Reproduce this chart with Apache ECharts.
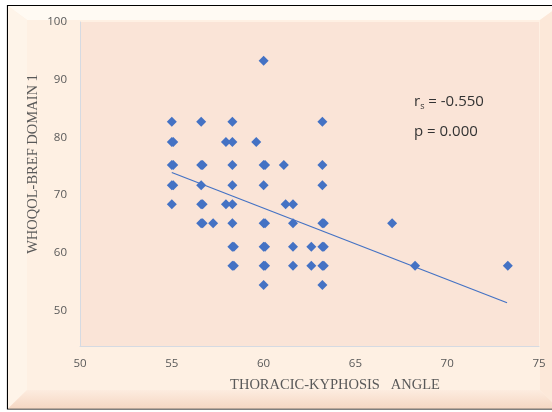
<!DOCTYPE html>
<html>
<head>
<meta charset="utf-8">
<script src="https://cdn.jsdelivr.net/npm/echarts@6/dist/echarts.min.js"></script>
<style>html,body{margin:0;padding:0;background:#fff;}#c{width:552px;height:412px;}</style>
</head>
<body>
<div id="c"></div>
<script>
// Thoracic-kyphosis angle (x) vs WHOQOL-BREF domain 1 (y)
const angle = [
  60.0,
  55.0, 56.6, 58.3, 63.2,
  55.0, 55.08, 57.95, 58.3, 59.6,
  55.0, 55.08, 56.6, 56.68, 58.3, 60.0, 60.08, 61.1, 63.2,
  55.0, 55.08, 56.6, 58.3, 60.0, 63.2,
  55.0, 56.6, 56.68, 57.95, 58.3, 61.2, 61.6,
  56.6, 56.68, 57.25, 58.3, 60.0, 60.08, 61.6, 63.2, 63.28, 67.0,
  58.3, 58.38, 60.0, 60.08, 61.6, 62.6, 63.2, 63.28,
  58.3, 58.38, 60.0, 60.08, 61.6, 62.6, 63.2, 63.28, 68.25, 73.3,
  60.0, 63.2
];
const domain1 = [
  93.3,
  82.7, 82.7, 82.7, 82.7,
  79.2, 79.2, 79.2, 79.2, 79.2,
  75.2, 75.2, 75.2, 75.2, 75.2, 75.2, 75.2, 75.2, 75.2,
  71.7, 71.7, 71.7, 71.7, 71.7, 71.7,
  68.4, 68.4, 68.4, 68.4, 68.4, 68.4, 68.4,
  65.1, 65.1, 65.1, 65.1, 65.1, 65.1, 65.1, 65.1, 65.1, 65.1,
  61.0, 61.0, 61.0, 61.0, 61.0, 61.0, 61.0, 61.0,
  57.7, 57.7, 57.7, 57.7, 57.7, 57.7, 57.7, 57.7, 57.7, 57.7,
  54.4, 54.4
];
const trendX = [55.0, 73.26];
const trendY = [73.9, 51.3];
const xTicks = [50, 55, 60, 65, 70, 75];
const yTicks = [50, 60, 70, 80, 90, 100];
const xTitle = 'THORACIC-KYPHOSIS   ANGLE';
const yTitle = 'WHOQOL-BREF DOMAIN 1';

const points = angle.map((x, i) => [x, domain1[i]]);
const trend = trendX.map((x, i) => [x, trendY[i]]);

const chart = echarts.init(document.getElementById('c'), null, {renderer: 'canvas'});
const labelFont = {color: '#595959', fontFamily: 'Open Sans', fontSize: 11.5};
chart.setOption({
  backgroundColor: '#ffffff',
  animation: false,
  grid: {left: 80, top: 22, right: 13, bottom: 66, show: true, backgroundColor: '#FAE4D7', borderWidth: 0},
  xAxis: {
    type: 'value', min: 50, max: 75, interval: 5,
    axisLine: {show: true, lineStyle: {color: '#D5DAE2', width: 1}},
    axisTick: {show: false}, splitLine: {show: false},
    axisLabel: Object.assign({margin: 12, customValues: xTicks}, labelFont)
  },
  yAxis: {
    type: 'value', min: 43.8, max: 100,
    axisLine: {show: true, lineStyle: {color: '#D5DAE2', width: 1}},
    axisTick: {show: false}, splitLine: {show: false},
    axisLabel: Object.assign({margin: 13, customValues: yTicks}, labelFont)
  },
  graphic: [
    {type: 'rect', z: -10, shape: {x: 7.5, y: 5.5, width: 553, height: 403.5}, style: {fill: '#FEF0E3', stroke: '#000', lineWidth: 1.2}},
    {type: 'polygon', z: -9, shape: {points: [[8, 6], [559, 6], [540, 20], [27, 20]]}, style: {fill: '#FFFAF3'}},
    {type: 'polygon', z: -9, shape: {points: [[8, 6], [27, 20], [27, 390], [8, 408.5]]}, style: {fill: '#FEF4E9'}},
    {type: 'polygon', z: -9, shape: {points: [[8, 408.5], [27, 390], [540, 390], [559, 408.5]]},
      style: {fill: new echarts.graphic.LinearGradient(0, 0, 0, 1, [{offset: 0, color: '#FDECDF'}, {offset: 1, color: '#F5D7C3'}])}},
    {type: 'polygon', z: -9, shape: {points: [[559, 6], [540, 20], [540, 390], [559, 408.5]]}, style: {fill: '#FCE8D9'}},
    {type: 'text', z: 10, x: 335, y: 385, style: {text: xTitle, fill: '#595959', font: '14.5px "Liberation Serif"', align: 'center', verticalAlign: 'middle'}},
    {type: 'text', z: 10, x: 33, y: 164, rotation: Math.PI / 2, style: {text: yTitle, fill: '#595959', font: '14.5px "Liberation Serif"', align: 'center', verticalAlign: 'middle'}},
    {type: 'text', z: 10, x: 414, y: 102, style: {
      text: '{a|r}{s|s}{a| = -0.550}', verticalAlign: 'middle', align: 'left',
      rich: {a: {fontFamily: 'Open Sans', fontSize: 15, fill: '#333333'}, s: {fontFamily: 'Open Sans', fontSize: 9, fill: '#333333', padding: [8, 0, 0, 0]}}
    }},
    {type: 'text', z: 10, x: 414, y: 132, style: {text: 'p = 0.000', fill: '#333333', font: '15px "Open Sans"', verticalAlign: 'middle', align: 'left'}}
  ],
  series: [
    {type: 'scatter', data: points, symbol: 'diamond', symbolSize: 10, itemStyle: {color: '#4472C4', opacity: 1}, z: 3},
    {type: 'line', data: trend, symbol: 'none', lineStyle: {color: '#4472C4', width: 1.2}, z: 2}
  ]
});
</script>
</body>
</html>
